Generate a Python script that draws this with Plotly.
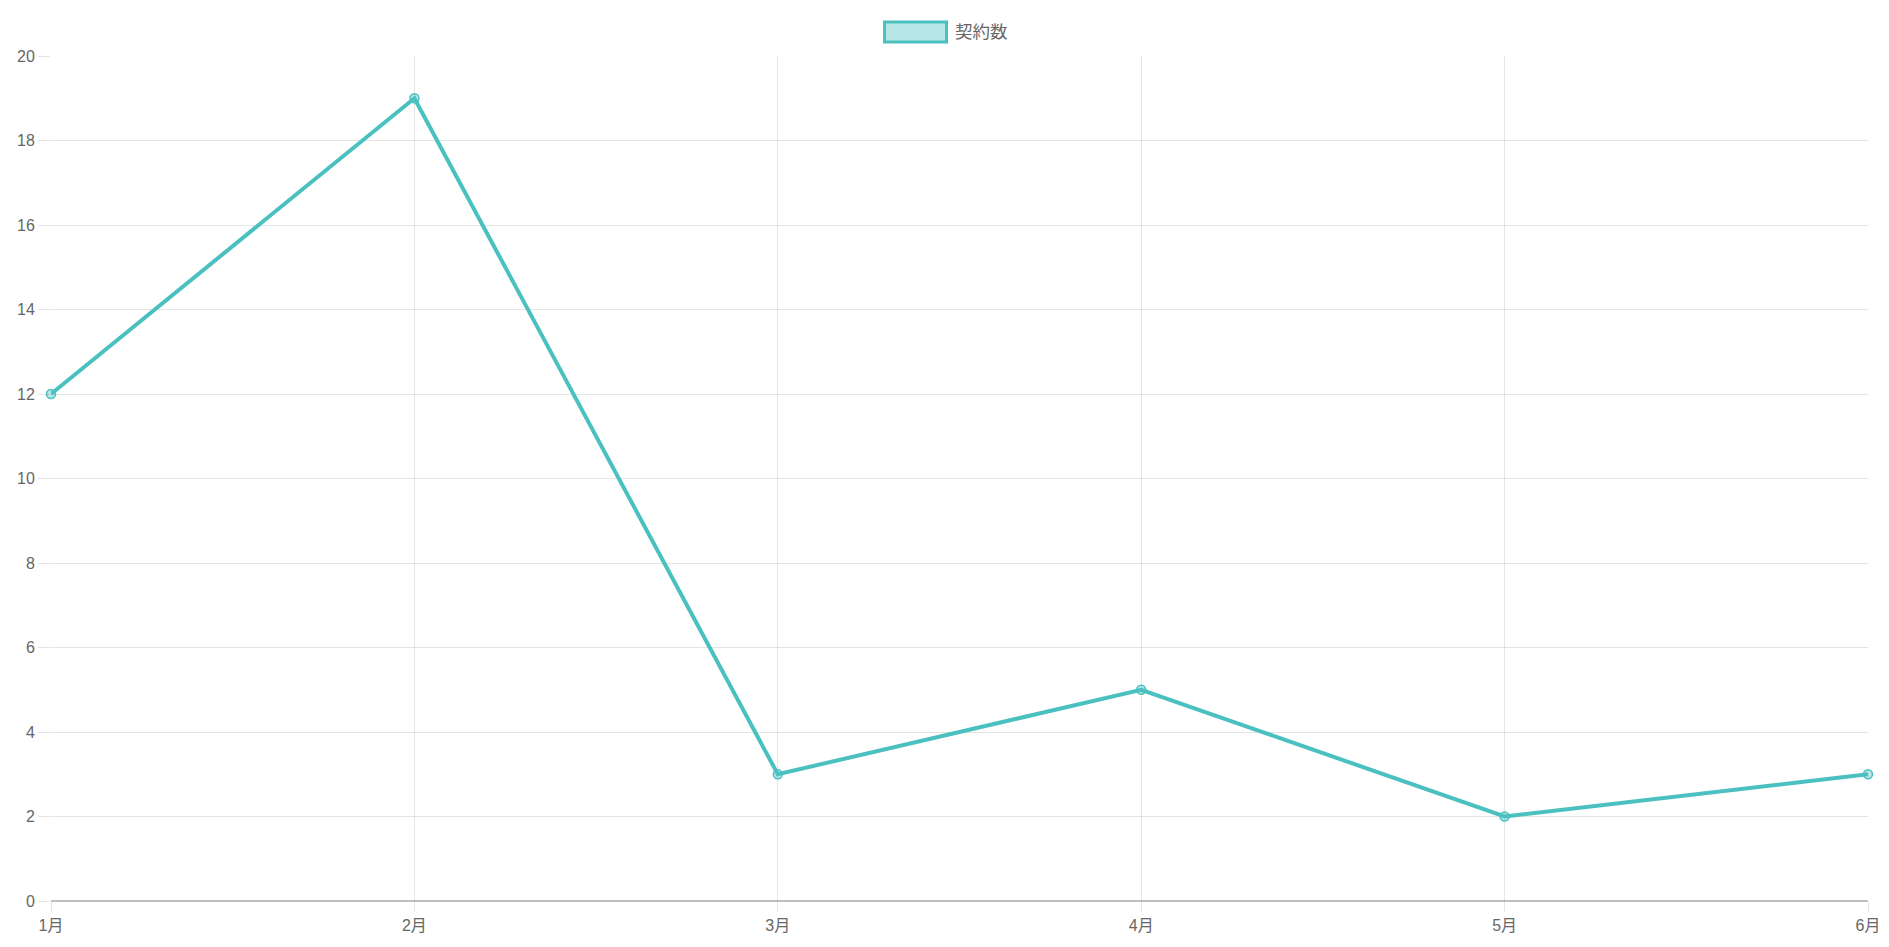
import plotly.graph_objects as go

months = ["1月", "2月", "3月", "4月", "5月", "6月"]
contracts = [12, 19, 3, 5, 2, 3]
series_name = "契約数"
y_ticks = [0, 2, 4, 6, 8, 10, 12, 14, 16, 18, 20]

teal = "rgb(75,192,192)"
teal_fill = "rgba(75,192,192,0.4)"
grid = "rgba(0,0,0,0.1)"
font_family = "Liberation Sans, Helvetica, Arial, Noto Sans CJK JP, sans-serif"

# page is 1889x947, the html body has an 8px margin
OFF = 8
W, H = 1889 - 2 * OFF, 947 - 2 * OFF - 2
# plot area in page pixels
PX0, PX1, PY0, PY1 = 50.5, 1868.5, 55.5, 901.5
L, T = PX0 - OFF, PY0 - OFF
R, B = (OFF + W) - PX1, (OFF + H) - PY1
pw, ph = PX1 - PX0, PY1 - PY0

def px_x(x):
    return (x - PX0) / pw

def px_y(y):
    return (PY1 - y) / ph

fig = go.Figure()
fig.add_trace(go.Scatter(
    x=months,
    y=contracts,
    mode="lines+markers",
    name=series_name,
    line=dict(color=teal, width=4),
    marker=dict(size=9, color=teal_fill, line=dict(color=teal, width=1.5)),
    showlegend=False,
    cliponaxis=False,
))

# chart.js style legend box + label
fig.add_shape(
    type="rect", xref="paper", yref="paper",
    x0=px_x(884.5), x1=px_x(946.5), y0=px_y(41.5), y1=px_y(21.5),
    line=dict(color=teal, width=3), fillcolor=teal_fill,
)
fig.add_annotation(
    text=series_name, xref="paper", yref="paper",
    x=px_x(953), y=px_y(31), xanchor="left", yanchor="middle",
    showarrow=False, font=dict(size=17.5, color="#666", family=font_family),
)

fig.update_layout(
    width=W, height=H,
    margin=dict(l=L, r=R, t=T, b=B, autoexpand=False),
    paper_bgcolor="white", plot_bgcolor="white",
    font=dict(family=font_family, size=16, color="#666"),
    showlegend=False,
)
fig.update_xaxes(
    type="category", range=[0, 5], automargin=False,
    showgrid=True, gridcolor=grid, gridwidth=1,
    ticks="outside", ticklen=10, tickcolor=grid,
    showline=False, zeroline=False,
    tickfont=dict(size=16, color="#666"),
)
fig.update_yaxes(
    range=[0, 20], tickvals=y_ticks, automargin=False,
    showgrid=True, gridcolor=grid, gridwidth=1,
    ticks="outside", ticklen=12, tickcolor=grid,
    zeroline=True, zerolinecolor="rgba(0,0,0,0.25)", zerolinewidth=1.5,
    showline=False,
    tickfont=dict(size=16, color="#666"),
)

fig.write_html("out.html")
